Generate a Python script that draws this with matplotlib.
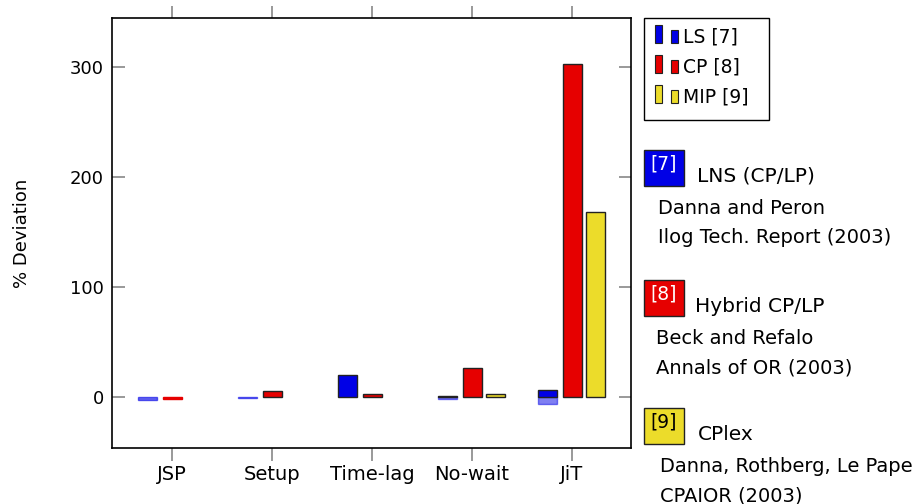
import numpy as np
import matplotlib
matplotlib.use("Agg")
import matplotlib.pyplot as plt
from matplotlib.patches import Rectangle

plt.rcParams['font.family'] = ['DejaVu Sans']

# data (% deviation)
problems = ['JSP', 'Setup', 'Time-lag', 'No-wait', 'JiT']
ls_dev = [-2, -0.5, 20, 1.5, 6.5]
cp_dev = [-1.5, 6, 3, 27, 303]
mip_dev = [np.nan, np.nan, np.nan, 3, 169]
ls_low = [0, 0, 0, -1, -6]   # pale lower part of some LS bars

series = [('LS [7]', ls_dev, '#0000e6'),
          ('CP [8]', cp_dev, '#e60000'),
          ('MIP [9]', mip_dev, '#ecdc2a')]

W, H = 915, 504
fig = plt.figure(figsize=(W / 100, H / 100), dpi=100)
ax = fig.add_axes([112 / W, 1 - 448 / H, (631 - 112) / W, (448 - 18) / H])

x = np.arange(len(problems))
offs = [-0.245, 0.0, 0.235]
bw = 0.19
for (name, vals, col), off in zip(series, offs):
    for xi, v in zip(x, vals):
        if np.isnan(v):
            continue
        if v >= 0:
            ax.bar(xi + off, v, bw, color=col, edgecolor='#222222', linewidth=1, zorder=3)
        else:
            ax.bar(xi + off, v, bw, color=col, alpha=0.6 if col == '#0000e6' else 1,
                   edgecolor=col, linewidth=1, zorder=3)
for xi, v in zip(x, ls_low):
    if v < 0:
        ax.bar(xi + offs[0], v, bw, color='#0000e6', alpha=0.5, edgecolor='#0000e6',
               linewidth=1, zorder=2)

ax.set_xlim(-0.6, 4.59)
ax.set_ylim(-46, 345)
ax.set_xticks(x)
ax.set_xticklabels(problems)
ax.set_yticks([0, 100, 200, 300])
ax.tick_params(axis='y', direction='in', length=9, color='#888888', width=1.2,
               left=True, right=True, labelsize=13, pad=6)
ax.tick_params(axis='x', direction='out', length=9, color='#888888', width=1.2,
               top=True, bottom=True, labelsize=14, pad=3)
for s in ax.spines.values():
    s.set_linewidth(1.2)
ax.set_ylabel('% Deviation', fontsize=13, labelpad=28)


def fx(px):
    return px / W


def fy(py):
    return 1 - py / H


# legend box
fig.patches.append(Rectangle((fx(644), fy(120)), (769 - 644) / W, (120 - 18) / H,
                             transform=fig.transFigure, fill=False, edgecolor='black',
                             linewidth=1))
rows = [37, 67, 97]
for (name, vals, col), ry in zip(series, rows):
    fig.patches.append(Rectangle((fx(655), fy(ry + 6)), 7 / W, 18 / H,
                                 transform=fig.transFigure, facecolor=col,
                                 edgecolor='#222222', linewidth=0.8))
    fig.patches.append(Rectangle((fx(671), fy(ry + 6)), 7 / W, 13 / H,
                                 transform=fig.transFigure, facecolor=col,
                                 edgecolor='#222222', linewidth=0.8))
    fig.text(fx(683), fy(ry), name, fontsize=13.5, va='center', ha='left')

# reference notes on the right
notes = [
    ('[7]', '#0000e6', 'white', 150, 'LNS (CP/LP)', 697,
     ['Danna and Peron', 'Ilog Tech. Report (2003)'], 658),
    ('[8]', '#e60000', 'white', 280, 'Hybrid CP/LP', 695,
     ['Beck and Refalo', 'Annals of OR (2003)'], 656),
    ('[9]', '#ecdc2a', 'black', 408, 'CPlex', 698,
     ['Danna, Rothberg, Le Pape', 'CPAIOR (2003)'], 660),
]
for tag, col, tcol, top, title, tx, lines, lx in notes:
    fig.patches.append(Rectangle((fx(644), fy(top + 36)), 40 / W, 36 / H,
                                 transform=fig.transFigure, facecolor=col,
                                 edgecolor='#222222', linewidth=1))
    fig.text(fx(664), fy(top + 14), tag, fontsize=13.5, color=tcol, ha='center', va='center')
    fig.text(fx(tx), fy(top + 32), title, fontsize=14.5, ha='left', va='baseline')
    for k, ln in enumerate(lines):
        fig.text(fx(lx), fy(top + 64 + 29 * k), ln, fontsize=14, ha='left', va='baseline')

fig.savefig('out.png', dpi=100)
